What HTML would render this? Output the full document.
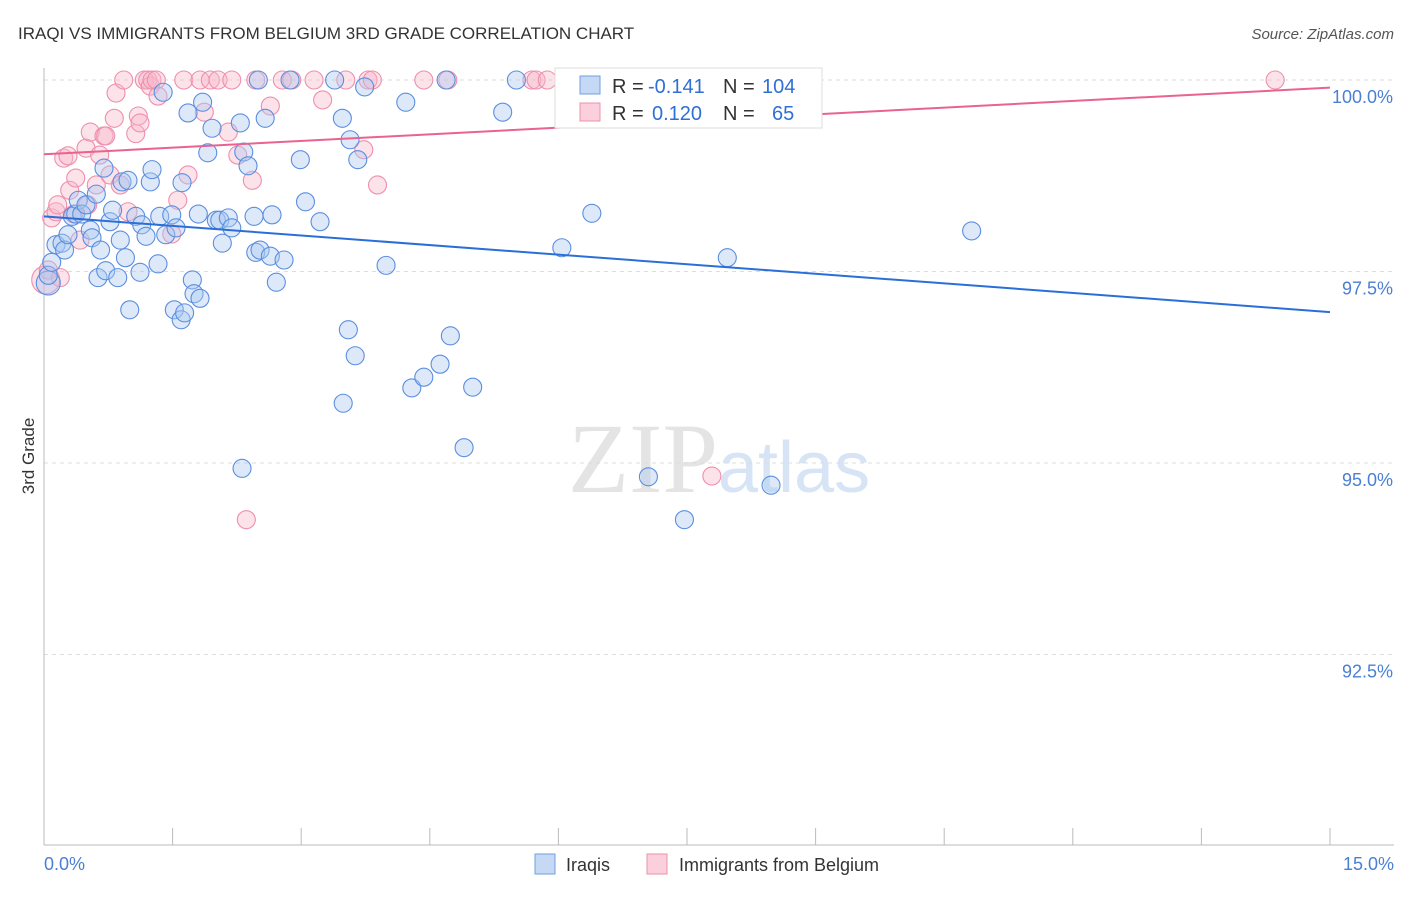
<!DOCTYPE html>
<html><head><meta charset="utf-8"><style>
body{margin:0;background:#fff;font-family:"Liberation Sans",sans-serif}
</style></head><body>
<svg id="c" width="1406" height="892" xmlns="http://www.w3.org/2000/svg">
<text x="18" y="39" font-size="17" fill="#333">IRAQI VS IMMIGRANTS FROM BELGIUM 3RD GRADE CORRELATION CHART</text>
<text x="1394" y="39" font-size="15" fill="#555" text-anchor="end" font-style="italic">Source: ZipAtlas.com</text>
<text x="718" y="492" font-size="100" fill="#e4e4e4" text-anchor="end" font-family="Liberation Serif">ZIP</text>
<text x="718" y="492" font-size="72" fill="#d6e4f5">atlas</text>
<g id="grid"></g><g id="pts"></g><g id="lines"></g>
<text transform="translate(34,456) rotate(-90)" font-size="17" fill="#333" text-anchor="middle">3rd Grade</text>
<text x="44" y="870" font-size="18" fill="#4a7fd4">0.0%</text>
<text x="1394" y="870" font-size="18" fill="#4a7fd4" text-anchor="end">15.0%</text>
<g font-size="20">
<rect x="555" y="68" width="267" height="60" fill="#fff" stroke="#ddd"/>
<rect x="580" y="76" width="20" height="18" fill="#c5d9f5" stroke="#6f9fe0"/>
<rect x="580" y="103" width="20" height="18" fill="#fbd0dc" stroke="#ee8fae"/>
<text x="612" y="93" fill="#333">R =</text><text x="648" y="93" fill="#2f6fd6">-0.141</text>
<text x="723" y="93" fill="#333">N =</text><text x="762" y="93" fill="#2f6fd6">104</text>
<text x="612" y="120" fill="#333">R =</text><text x="652" y="120" fill="#2f6fd6">0.120</text>
<text x="723" y="120" fill="#333">N =</text><text x="772" y="120" fill="#2f6fd6">65</text>
</g>
<g>
<rect x="535" y="854" width="20" height="20" fill="#c5d9f5" stroke="#6f9fe0"/>
<text x="566" y="871" font-size="18" fill="#333">Iraqis</text>
<rect x="647" y="854" width="20" height="20" fill="#fbd0dc" stroke="#ee8fae"/>
<text x="679" y="871" font-size="18" fill="#333">Immigrants from Belgium</text>
</g>
</svg>
<script>
const yTicks=[100,97.5,95,92.5];
const yTickLabels=["100.0%","97.5%","95.0%","92.5%"];
const xTicks=[0,1.5,3,4.5,6,7.5,9,10.5,12,13.5,15];
const blueX=[.05,.05,.09,.14,.21,.24,.28,.33,.37,.40,.44,.49,.54,.56,.61,.63,.66,.70,.72,.77,.80,.86,.89,.91,.95,.98,1.00,1.07,1.12,1.14,1.19,1.24,1.26,1.33,1.35,1.39,1.42,1.49,1.52,1.54,1.60,1.61,1.64,1.68,1.73,1.75,1.80,1.82,1.85,1.91,1.96,2.01,2.05,2.08,2.15,2.19,2.29,2.31,2.33,2.38,2.45,2.47,2.50,2.52,2.58,2.64,2.66,2.71,2.80,2.87,2.99,3.05,3.22,3.39,3.48,3.55,3.57,3.49,3.63,3.66,3.74,3.99,4.22,4.29,4.43,4.62,4.69,4.74,4.90,5.00,5.35,5.51,6.04,6.39,7.05,7.47,7.97,8.48,10.82];
const blueY=[97.35,97.45,97.62,97.85,97.87,97.78,97.98,98.22,98.25,98.43,98.25,98.37,98.04,97.94,98.51,97.42,97.78,98.85,97.51,98.15,98.30,97.42,97.91,98.67,97.68,98.69,97.00,98.22,97.49,98.11,97.96,98.67,98.83,97.60,98.22,99.84,97.98,98.24,97.00,98.07,96.87,98.66,96.96,99.57,97.39,97.21,98.25,97.15,99.71,99.05,99.37,98.17,98.17,97.87,98.20,98.07,99.44,94.93,99.06,98.88,98.22,97.75,100,97.78,99.50,97.70,98.24,97.36,97.65,100,98.96,98.41,98.15,100,99.50,96.74,99.22,95.78,96.40,98.96,99.91,97.58,99.71,95.98,96.12,96.29,100,96.66,95.20,95.99,99.58,100,97.81,98.26,94.82,94.26,97.68,94.71,98.03];
const pinkX=[.02,.05,.09,.14,.16,.19,.23,.28,.30,.35,.37,.42,.49,.51,.54,.61,.65,.70,.72,.77,.82,.84,.89,.93,.98,1.07,1.10,1.12,1.17,1.21,1.24,1.26,1.31,1.33,1.49,1.56,1.63,1.68,1.82,1.87,1.94,2.03,2.15,2.19,2.26,2.43,2.47,2.64,2.78,2.89,3.15,3.25,3.52,3.73,3.78,3.83,3.89,4.43,4.71,5.69,5.74,5.87,6.10,7.79,2.36,14.36];
const pinkY=[97.39,97.52,98.20,98.28,98.37,97.42,98.98,99.01,98.56,98.25,98.72,97.91,99.11,98.37,99.32,98.63,99.02,99.27,99.27,98.76,99.50,99.83,98.63,100,98.28,99.30,99.53,99.44,100,100,99.92,100,100,99.79,97.99,98.43,100,98.76,100,99.58,100,100,99.32,100,99.02,98.69,100,99.66,100,100,100,99.74,100,99.09,100,100,98.63,100,100,100,100,100,100,94.83,94.26,100];
const blueTrend=[98.22,96.97];
const pinkTrend=[99.03,99.90];
const X=v=>44+v/15*1286, Y=v=>80+(100-v)*76.6;
const NS="http://www.w3.org/2000/svg";
function mk(t,a,p){const e=document.createElementNS(NS,t);for(const k in a)e.setAttribute(k,a[k]);p.appendChild(e);return e;}
const g=document.getElementById('grid');
yTicks.forEach((t,i)=>{
 const l=mk('line',{x1:44,x2:1394,y1:Y(t),y2:Y(t),stroke:'#ddd','stroke-dasharray':'4,4'},g);
 
 
 const tx=mk('text',{x:1393,y:Y(t)+23,'font-size':18,fill:'#4a7fd4','text-anchor':'end'},g);
 tx.textContent=yTickLabels[i];
 
 
});
const ax=mk('line',{x1:44,x2:44,y1:68,y2:845,stroke:'#bbb'},g);


const bx=mk('line',{x1:44,x2:1394,y1:845,y2:845,stroke:'#bbb'},g);


xTicks.forEach(t=>{
 const l=mk('line',{x1:X(t),x2:X(t),y1:828,y2:845,stroke:'#bbb'},g);
 
 
});
const p=document.getElementById('pts');
pinkX.forEach((x,i)=>{
 const c=mk('circle',{cx:X(x),cy:Y(pinkY[i]),r:i==0?14:9,fill:'#f7b6c8','fill-opacity':0.4,stroke:'#ee8fae','stroke-width':1.1},p);
 
 
});
blueX.forEach((x,i)=>{
 const c=mk('circle',{cx:X(x),cy:Y(blueY[i]),r:i==0?12:9,fill:'#a9c8f0','fill-opacity':0.4,stroke:'#5b8ee0','stroke-width':1.1},p);
 
 
});
const L=document.getElementById('lines');
const bl=mk('line',{x1:X(0),x2:X(15),y1:Y(blueTrend[0]),y2:Y(blueTrend[1]),stroke:'#2a6fd8','stroke-width':2},L);


const pl=mk('line',{x1:X(0),x2:X(15),y1:Y(pinkTrend[0]),y2:Y(pinkTrend[1]),stroke:'#e8638f','stroke-width':2},L);


</script>
</body></html>
